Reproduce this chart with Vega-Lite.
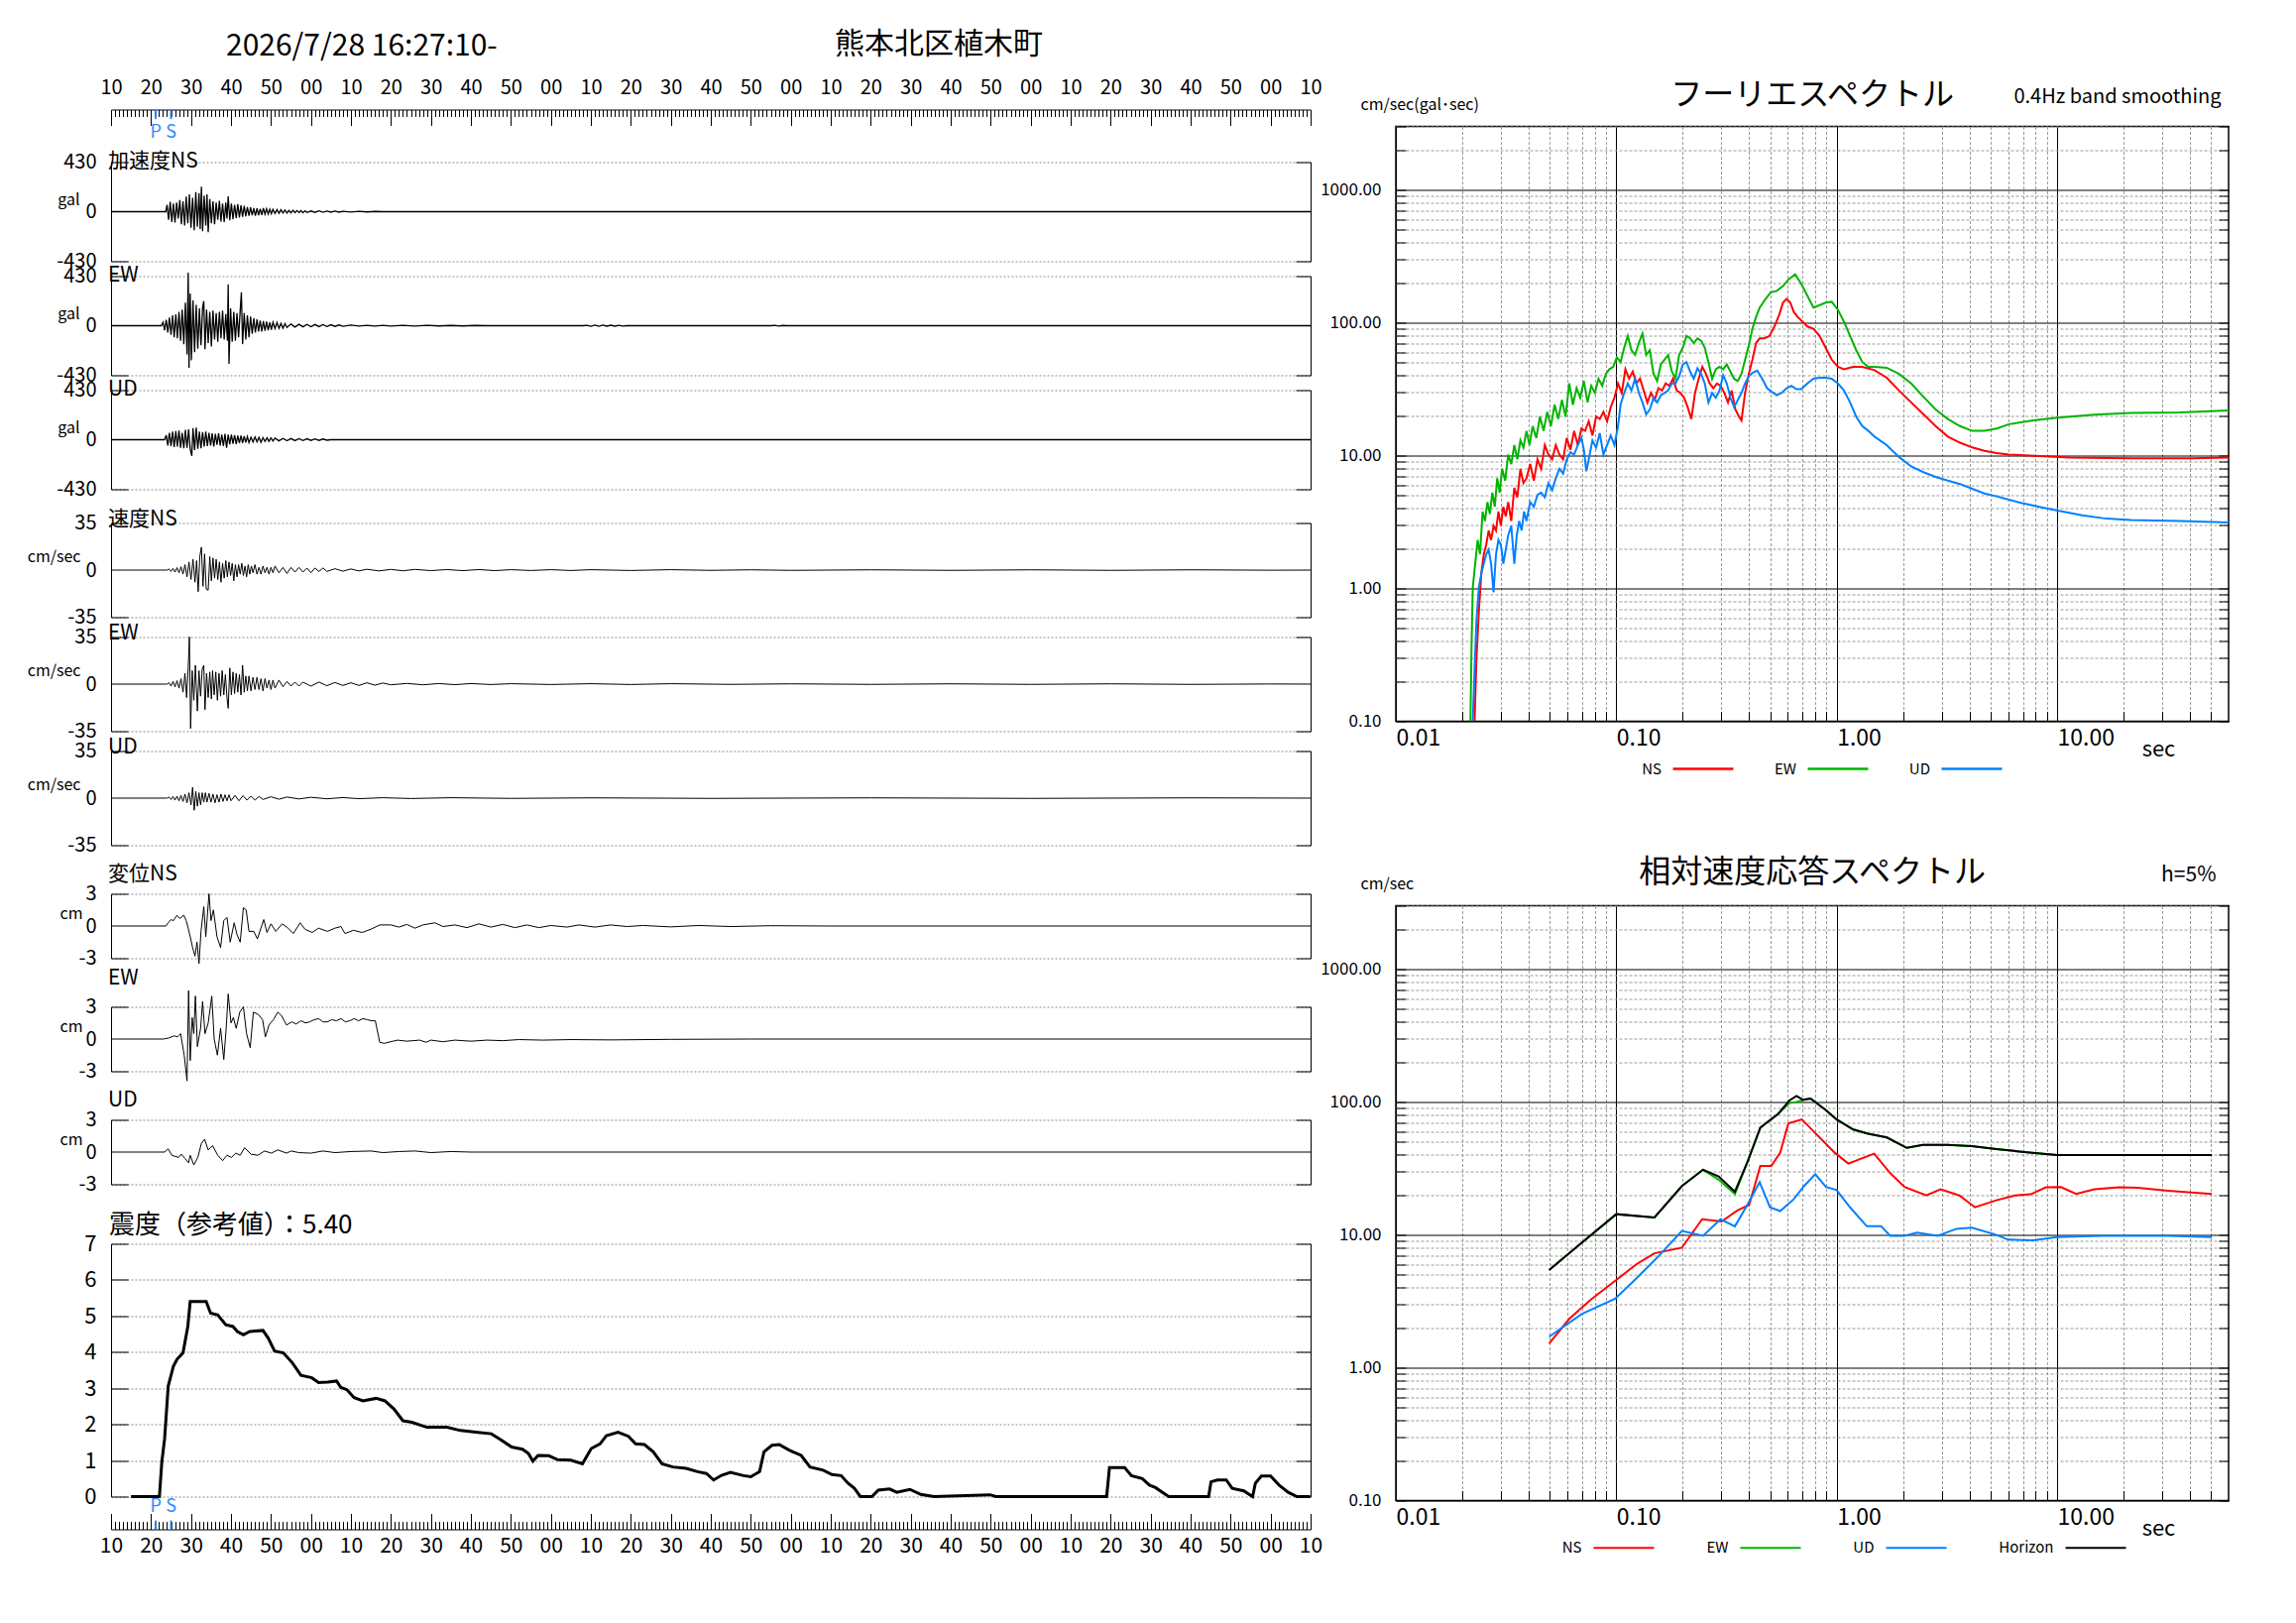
{
  "$schema": "https://vega.github.io/schema/vega-lite/v6.json",
  "background": "white",
  "padding": {"left": 27, "top": 29.5, "right": 5, "bottom": 5},
  "config": {
    "font": "Noto Sans CJK JP",
    "view": {"stroke": null},
    "axis": {
      "labelColor": "#000",
      "titleColor": "#000",
      "domainColor": "#000",
      "tickColor": "#000",
      "titleFontWeight": "normal",
      "labelOverlap": false,
      "labelFlush": false,
      "labelBound": false,
      "minExtent": 0
    },
    "title": {"fontWeight": "normal", "color": "#000"},
    "legend": {"labelColor": "#000"}
  },
  "datasets": {
    "ps": [{"phase": "P", "t": 21.2}, {"phase": "S", "t": 25.0}],
    "ans": [
      {"t":10,"v":0},{"t":23.7,"v":0},{"t":24.0,"v":60},{"t":24.4,"v":-70},{"t":24.8,"v":85},{"t":25.2,"v":-90},{"t":25.6,"v":70},{"t":26.0,"v":-95},{"t":26.4,"v":80},{"t":26.8,"v":-60},{"t":27.2,"v":100},{"t":27.6,"v":-110},{"t":28.0,"v":90},{"t":28.4,"v":-120},{"t":28.8,"v":130},{"t":29.2,"v":-100},{"t":29.6,"v":150},{"t":30.0,"v":-140},{"t":30.4,"v":120},{"t":30.8,"v":-160},{"t":31.2,"v":170},{"t":31.6,"v":-130},{"t":32.0,"v":160},{"t":32.3,"v":-150},{"t":32.6,"v":217},{"t":32.9,"v":-170},{"t":33.3,"v":140},{"t":33.7,"v":-120},{"t":34.0,"v":150},{"t":34.3,"v":-179},{"t":34.7,"v":110},{"t":35.1,"v":-100},{"t":35.5,"v":90},{"t":35.9,"v":-110},{"t":36.3,"v":80},{"t":36.7,"v":-70},{"t":37.1,"v":95},{"t":37.5,"v":-85},{"t":37.9,"v":70},{"t":38.3,"v":-90},{"t":38.7,"v":80},{"t":39.0,"v":-60},{"t":39.3,"v":133},{"t":39.7,"v":-75},{"t":40.1,"v":70},{"t":40.5,"v":-65},{"t":40.9,"v":60},{"t":41.3,"v":-55},{"t":41.7,"v":65},{"t":42.1,"v":-50},{"t":42.5,"v":55},{"t":42.9,"v":-45},{"t":43.3,"v":50},{"t":43.7,"v":-40},{"t":44.1,"v":40},{"t":44.5,"v":-35},{"t":44.9,"v":38},{"t":45.3,"v":-32},{"t":45.7,"v":30},{"t":46.1,"v":-35},{"t":46.5,"v":28},{"t":46.9,"v":-30},{"t":47.3,"v":25},{"t":47.7,"v":-28},{"t":48.1,"v":30},{"t":48.5,"v":-22},{"t":48.9,"v":25},{"t":49.3,"v":-20},{"t":49.7,"v":22},{"t":50.1,"v":-18},{"t":50.5,"v":20},{"t":51.0,"v":-15},{"t":51.5,"v":18},{"t":52.0,"v":-14},{"t":52.5,"v":16},{"t":53.0,"v":-12},{"t":53.5,"v":14},{"t":54.0,"v":-12},{"t":54.5,"v":10},{"t":55.0,"v":-11},{"t":55.5,"v":12},{"t":56.0,"v":-9},{"t":56.5,"v":10},{"t":57.0,"v":-8},{"t":57.5,"v":9},{"t":58.0,"v":-10},{"t":58.5,"v":8},{"t":59.0,"v":-7},{"t":60,"v":6},{"t":61,"v":-6},{"t":62,"v":7},{"t":63,"v":-5},{"t":64,"v":5},{"t":65,"v":-4},{"t":66,"v":5},{"t":67,"v":-4},{"t":68,"v":3},{"t":70,"v":-3},{"t":72,"v":3},{"t":74,"v":-2},{"t":76,"v":2},{"t":78,"v":0},{"t":310,"v":0}
    ],
    "aew": [
      {"t":10,"v":0},{"t":22.6,"v":0},{"t":23.0,"v":30},{"t":23.4,"v":-40},{"t":23.8,"v":50},{"t":24.2,"v":-60},{"t":24.6,"v":70},{"t":25.0,"v":-80},{"t":25.4,"v":90},{"t":25.8,"v":-100},{"t":26.2,"v":99},{"t":26.6,"v":-110},{"t":27.0,"v":120},{"t":27.4,"v":-130},{"t":27.8,"v":140},{"t":28.2,"v":-160},{"t":28.6,"v":200},{"t":29.0,"v":-250},{"t":29.3,"v":460},{"t":29.5,"v":-365},{"t":29.8,"v":280},{"t":30.1,"v":-300},{"t":30.5,"v":220},{"t":30.9,"v":-230},{"t":31.3,"v":180},{"t":31.7,"v":-200},{"t":32.1,"v":150},{"t":32.5,"v":-170},{"t":32.9,"v":160},{"t":33.2,"v":213},{"t":33.5,"v":-205},{"t":33.9,"v":140},{"t":34.3,"v":-150},{"t":34.7,"v":120},{"t":35.1,"v":-180},{"t":35.5,"v":130},{"t":35.9,"v":-120},{"t":36.3,"v":110},{"t":36.7,"v":-140},{"t":37.1,"v":120},{"t":37.5,"v":-110},{"t":37.9,"v":130},{"t":38.3,"v":-120},{"t":38.7,"v":100},{"t":39.1,"v":-130},{"t":39.3,"v":358},{"t":39.5,"v":-331},{"t":39.9,"v":150},{"t":40.3,"v":-140},{"t":40.7,"v":120},{"t":41.1,"v":-130},{"t":41.5,"v":110},{"t":41.9,"v":-100},{"t":42.3,"v":130},{"t":42.6,"v":289},{"t":42.9,"v":-160},{"t":43.3,"v":110},{"t":43.7,"v":-120},{"t":44.1,"v":90},{"t":44.5,"v":-100},{"t":44.9,"v":80},{"t":45.3,"v":-70},{"t":45.7,"v":65},{"t":46.1,"v":-60},{"t":46.5,"v":55},{"t":46.9,"v":-50},{"t":47.3,"v":45},{"t":47.7,"v":-50},{"t":48.1,"v":40},{"t":48.5,"v":-45},{"t":48.9,"v":35},{"t":49.3,"v":-40},{"t":49.7,"v":30},{"t":50.1,"v":-35},{"t":50.5,"v":30},{"t":51.0,"v":-25},{"t":51.5,"v":28},{"t":52.0,"v":-22},{"t":52.5,"v":20},{"t":53,"v":-22},{"t":53.5,"v":18},{"t":54,"v":-15},{"t":55,"v":14},{"t":56,"v":-12},{"t":57,"v":12},{"t":58,"v":-10},{"t":59,"v":11},{"t":60,"v":-9},{"t":61,"v":10},{"t":62,"v":-8},{"t":63,"v":9},{"t":64,"v":-7},{"t":65,"v":8},{"t":66,"v":-6},{"t":67,"v":6},{"t":68,"v":-5},{"t":70,"v":5},{"t":72,"v":-4},{"t":74,"v":4},{"t":76,"v":-4},{"t":78,"v":3},{"t":80,"v":-3},{"t":83,"v":3},{"t":86,"v":-3},{"t":89,"v":3},{"t":92,"v":-2},{"t":95,"v":2},{"t":98,"v":-2},{"t":101,"v":2},{"t":104,"v":0},{"t":128,"v":0},{"t":129,"v":4},{"t":130,"v":-5},{"t":131,"v":5},{"t":132,"v":-5},{"t":133,"v":5},{"t":134,"v":-4},{"t":135,"v":4},{"t":136,"v":-4},{"t":137,"v":3},{"t":138,"v":-3},{"t":139,"v":0},{"t":175,"v":0},{"t":176,"v":3},{"t":177,"v":-3},{"t":178,"v":2},{"t":179,"v":0},{"t":310,"v":0}
    ],
    "aud": [
      {"t":10,"v":0},{"t":23.4,"v":0},{"t":23.8,"v":40},{"t":24.2,"v":-50},{"t":24.6,"v":60},{"t":25.0,"v":-55},{"t":25.4,"v":70},{"t":25.8,"v":-65},{"t":26.2,"v":75},{"t":26.6,"v":-60},{"t":27.0,"v":80},{"t":27.4,"v":-70},{"t":27.8,"v":60},{"t":28.2,"v":-75},{"t":28.6,"v":85},{"t":29.0,"v":-70},{"t":29.4,"v":90},{"t":29.8,"v":-80},{"t":30.2,"v":-140},{"t":30.5,"v":100},{"t":30.9,"v":-90},{"t":31.3,"v":106},{"t":31.7,"v":-80},{"t":32.1,"v":70},{"t":32.5,"v":-75},{"t":32.9,"v":65},{"t":33.3,"v":-60},{"t":33.7,"v":70},{"t":34.1,"v":-55},{"t":34.5,"v":60},{"t":34.9,"v":-50},{"t":35.3,"v":55},{"t":35.7,"v":-60},{"t":36.1,"v":50},{"t":36.5,"v":-45},{"t":36.9,"v":55},{"t":37.3,"v":-50},{"t":37.7,"v":45},{"t":38.1,"v":-55},{"t":38.5,"v":50},{"t":38.9,"v":-70},{"t":39.3,"v":45},{"t":39.7,"v":-40},{"t":40.1,"v":45},{"t":40.5,"v":-35},{"t":40.9,"v":40},{"t":41.3,"v":-38},{"t":41.7,"v":35},{"t":42.1,"v":-30},{"t":42.5,"v":35},{"t":42.9,"v":-28},{"t":43.3,"v":30},{"t":43.7,"v":-25},{"t":44.1,"v":28},{"t":44.5,"v":-25},{"t":45,"v":22},{"t":45.5,"v":-20},{"t":46,"v":24},{"t":46.5,"v":-18},{"t":47,"v":20},{"t":47.5,"v":-22},{"t":48,"v":18},{"t":48.5,"v":-15},{"t":49,"v":16},{"t":49.5,"v":-14},{"t":50,"v":15},{"t":50.5,"v":-12},{"t":51,"v":13},{"t":52,"v":-10},{"t":53,"v":11},{"t":54,"v":-9},{"t":55,"v":10},{"t":56,"v":-8},{"t":57,"v":9},{"t":58,"v":-7},{"t":59,"v":8},{"t":60,"v":-6},{"t":61,"v":7},{"t":62,"v":-6},{"t":63,"v":6},{"t":64,"v":-4},{"t":65,"v":0},{"t":310,"v":0}
    ],
    "vns": [
      {"t":10,"v":0},{"t":24,"v":0},{"t":24.5,"v":0.8},{"t":25,"v":-1},{"t":25.5,"v":1.2},{"t":26,"v":-1.5},{"t":26.5,"v":1.8},{"t":27,"v":-2},{"t":27.5,"v":2.5},{"t":28,"v":-3},{"t":28.5,"v":4},{"t":29,"v":-5},{"t":29.5,"v":6},{"t":30,"v":-7},{"t":30.5,"v":8},{"t":31,"v":-9},{"t":31.4,"v":7},{"t":31.8,"v":-16},{"t":32.2,"v":10},{"t":32.6,"v":17},{"t":33.0,"v":-12},{"t":33.4,"v":12},{"t":33.8,"v":-14},{"t":34.3,"v":-15},{"t":34.7,"v":10},{"t":35.1,"v":-8},{"t":35.5,"v":9},{"t":35.9,"v":-6},{"t":36.3,"v":8},{"t":36.7,"v":-7},{"t":37.1,"v":6},{"t":37.5,"v":-9},{"t":37.9,"v":5},{"t":38.3,"v":-6},{"t":38.7,"v":7},{"t":39.1,"v":-5},{"t":39.5,"v":6},{"t":39.9,"v":-4},{"t":40.3,"v":5},{"t":40.7,"v":-8},{"t":41.1,"v":4},{"t":41.5,"v":-5},{"t":41.9,"v":4},{"t":42.3,"v":-3},{"t":42.7,"v":5},{"t":43.1,"v":-4},{"t":43.5,"v":3},{"t":43.9,"v":-5},{"t":44.3,"v":4},{"t":44.7,"v":-3},{"t":45.1,"v":3},{"t":45.5,"v":-2},{"t":46,"v":4},{"t":46.5,"v":-3},{"t":47,"v":2},{"t":47.5,"v":-3},{"t":48,"v":3},{"t":48.5,"v":-2},{"t":49,"v":2},{"t":49.5,"v":-3},{"t":50,"v":2},{"t":50.5,"v":-2},{"t":51,"v":3},{"t":52,"v":-2},{"t":53,"v":2},{"t":54,"v":-2.5},{"t":55,"v":2},{"t":56,"v":-1.5},{"t":57,"v":2},{"t":58,"v":-1.5},{"t":59,"v":1.5},{"t":60,"v":-2},{"t":61,"v":1.5},{"t":62,"v":-1},{"t":63,"v":1.5},{"t":64,"v":-1},{"t":66,"v":1},{"t":68,"v":-0.8},{"t":70,"v":0.8},{"t":72,"v":-0.6},{"t":74,"v":0.6},{"t":77,"v":-0.6},{"t":80,"v":0.5},{"t":83,"v":-0.5},{"t":86,"v":0.5},{"t":90,"v":-0.4},{"t":94,"v":0.4},{"t":98,"v":-0.4},{"t":102,"v":0.4},{"t":106,"v":-0.4},{"t":110,"v":0.3},{"t":115,"v":-0.3},{"t":120,"v":0.3},{"t":125,"v":-0.3},{"t":130,"v":0.3},{"t":140,"v":-0.3},{"t":150,"v":0.3},{"t":160,"v":-0.2},{"t":170,"v":0.2},{"t":180,"v":-0.2},{"t":200,"v":0.2},{"t":220,"v":-0.2},{"t":240,"v":0.2},{"t":260,"v":-0.2},{"t":280,"v":0.2},{"t":300,"v":-0.1},{"t":310,"v":0}
    ],
    "vew": [
      {"t":10,"v":0},{"t":24,"v":0},{"t":24.5,"v":1},{"t":25,"v":-1.5},{"t":25.5,"v":2},{"t":26,"v":-2},{"t":26.5,"v":2.5},{"t":27,"v":-3},{"t":27.5,"v":4},{"t":28,"v":-6},{"t":28.5,"v":8},{"t":28.9,"v":-10},{"t":29.3,"v":12},{"t":29.6,"v":35},{"t":29.9,"v":-33},{"t":30.3,"v":10},{"t":30.7,"v":-12},{"t":31.1,"v":14},{"t":31.6,"v":-20},{"t":32.0,"v":10},{"t":32.4,"v":-9},{"t":32.8,"v":11},{"t":33.2,"v":14},{"t":33.5,"v":-19},{"t":33.9,"v":8},{"t":34.3,"v":-10},{"t":34.7,"v":9},{"t":35.1,"v":-11},{"t":35.4,"v":10},{"t":35.8,"v":-8},{"t":36.2,"v":9},{"t":36.6,"v":-12},{"t":37.0,"v":8},{"t":37.4,"v":-9},{"t":37.8,"v":10},{"t":38.2,"v":-8},{"t":38.6,"v":7},{"t":39.0,"v":-10},{"t":39.3,"v":-18},{"t":39.7,"v":12},{"t":40.1,"v":-8},{"t":40.5,"v":9},{"t":40.9,"v":-7},{"t":41.3,"v":8},{"t":41.7,"v":-6},{"t":42.1,"v":7},{"t":42.5,"v":-8},{"t":42.9,"v":14},{"t":43.3,"v":-6},{"t":43.7,"v":6},{"t":44.1,"v":-5},{"t":44.5,"v":6},{"t":45,"v":-5},{"t":45.5,"v":5},{"t":46,"v":-4},{"t":46.5,"v":5},{"t":47,"v":-4},{"t":47.5,"v":4},{"t":48,"v":-5},{"t":48.5,"v":4},{"t":49,"v":-3},{"t":49.5,"v":3},{"t":50,"v":-4},{"t":50.5,"v":3},{"t":51,"v":-3},{"t":52,"v":3},{"t":53,"v":-2},{"t":54,"v":2},{"t":55,"v":-1.5},{"t":56,"v":1.5},{"t":57,"v":-1.5},{"t":58,"v":1.5},{"t":60,"v":-1.5},{"t":62,"v":1.5},{"t":64,"v":-1.2},{"t":66,"v":1.2},{"t":68,"v":-1},{"t":70,"v":1},{"t":72,"v":-1},{"t":74,"v":1},{"t":76,"v":-0.8},{"t":78,"v":0.8},{"t":80,"v":-0.5},{"t":84,"v":0.5},{"t":88,"v":-0.5},{"t":92,"v":0.4},{"t":96,"v":-0.4},{"t":100,"v":0.4},{"t":105,"v":-0.3},{"t":110,"v":0.3},{"t":120,"v":-0.3},{"t":130,"v":0.3},{"t":140,"v":-0.3},{"t":150,"v":0.3},{"t":165,"v":-0.2},{"t":180,"v":0.2},{"t":200,"v":-0.2},{"t":220,"v":0.2},{"t":240,"v":-0.2},{"t":260,"v":0.2},{"t":280,"v":-0.2},{"t":300,"v":0.1},{"t":310,"v":0}
    ],
    "vud": [
      {"t":10,"v":0},{"t":24,"v":0},{"t":24.5,"v":0.8},{"t":25,"v":-1},{"t":25.5,"v":1.2},{"t":26,"v":-1.5},{"t":26.5,"v":1.5},{"t":27,"v":-2},{"t":27.5,"v":2},{"t":28,"v":-2.5},{"t":28.5,"v":3},{"t":29,"v":-3.5},{"t":29.5,"v":4},{"t":30,"v":-5},{"t":30.4,"v":8},{"t":30.8,"v":-9},{"t":31.2,"v":5},{"t":31.6,"v":-6},{"t":32,"v":4},{"t":32.4,"v":-5},{"t":32.8,"v":4},{"t":33.2,"v":-3},{"t":33.6,"v":4},{"t":34,"v":-3},{"t":34.5,"v":3.5},{"t":35,"v":-3},{"t":35.5,"v":3},{"t":36,"v":-3.5},{"t":36.5,"v":2.5},{"t":37,"v":-3},{"t":37.5,"v":3},{"t":38,"v":-2.5},{"t":38.5,"v":2.5},{"t":39,"v":-2},{"t":39.5,"v":2.5},{"t":40,"v":-2},{"t":41,"v":2},{"t":42,"v":-2},{"t":43,"v":1.8},{"t":44,"v":-1.5},{"t":45,"v":1.5},{"t":46,"v":-1.5},{"t":47,"v":1.2},{"t":48,"v":-1},{"t":50,"v":1},{"t":52,"v":-0.8},{"t":54,"v":0.8},{"t":57,"v":-0.6},{"t":60,"v":0.6},{"t":64,"v":-0.5},{"t":68,"v":0.4},{"t":72,"v":-0.4},{"t":78,"v":0.3},{"t":85,"v":-0.3},{"t":95,"v":0.3},{"t":110,"v":-0.2},{"t":130,"v":0.2},{"t":160,"v":-0.2},{"t":200,"v":0.2},{"t":240,"v":-0.2},{"t":280,"v":0.2},{"t":310,"v":0}
    ],
    "dns": [
      {"t":10,"v":0},{"t":23.7,"v":0},{"t":24.3,"v":0.3},{"t":25.0,"v":0.6},{"t":25.6,"v":0.5},{"t":26.5,"v":1.0},{"t":27.2,"v":0.7},{"t":28.2,"v":1.0},{"t":28.8,"v":0.5},{"t":29.3,"v":-0.2},{"t":29.8,"v":-1.0},{"t":30.4,"v":-2.0},{"t":31.0,"v":-2.8},{"t":31.5,"v":-1.5},{"t":32.0,"v":-3.5},{"t":32.5,"v":-0.5},{"t":33.2,"v":1.8},{"t":33.7,"v":-1.0},{"t":34.5,"v":3.0},{"t":35.0,"v":0.5},{"t":35.6,"v":1.5},{"t":36.5,"v":-1.0},{"t":37.4,"v":-2.0},{"t":38.2,"v":0.5},{"t":39.0,"v":0.8},{"t":39.8,"v":-1.5},{"t":40.8,"v":0.3},{"t":41.5,"v":-0.8},{"t":42.3,"v":-1.5},{"t":43.1,"v":1.7},{"t":43.8,"v":1.5},{"t":44.5,"v":-0.5},{"t":45.7,"v":-0.5},{"t":46.6,"v":-1.2},{"t":48.2,"v":0.6},{"t":49.0,"v":-0.6},{"t":50.0,"v":0.2},{"t":51.2,"v":-0.5},{"t":52.8,"v":0.2},{"t":54.3,"v":-0.2},{"t":55.6,"v":-0.7},{"t":57.3,"v":0.3},{"t":58.5,"v":-0.3},{"t":60.3,"v":-0.6},{"t":61.9,"v":-0.2},{"t":64.1,"v":-0.5},{"t":66.0,"v":-0.2},{"t":67.5,"v":-0.05},{"t":68.5,"v":-0.7},{"t":70.6,"v":-0.4},{"t":72.8,"v":-0.6},{"t":75.0,"v":-0.3},{"t":77.2,"v":0.1},{"t":80,"v":0.1},{"t":82,"v":-0.1},{"t":84,"v":0.15},{"t":86,"v":-0.2},{"t":88,"v":0.1},{"t":91,"v":0.3},{"t":93,"v":-0.05},{"t":96,"v":0.1},{"t":99,"v":-0.15},{"t":102,"v":0.2},{"t":105,"v":-0.1},{"t":108,"v":0.15},{"t":111,"v":-0.15},{"t":114,"v":0.1},{"t":117,"v":-0.15},{"t":120,"v":0.05},{"t":124,"v":-0.1},{"t":127,"v":0.1},{"t":131,"v":-0.1},{"t":135,"v":0.1},{"t":139,"v":-0.05},{"t":143,"v":0.05},{"t":150,"v":-0.08},{"t":157,"v":0.05},{"t":165,"v":-0.05},{"t":175,"v":0.03},{"t":190,"v":0},{"t":310,"v":0}
    ],
    "dew": [
      {"t":10,"v":0},{"t":23.1,"v":0},{"t":24.5,"v":0.1},{"t":25.8,"v":0.3},{"t":26.6,"v":0.2},{"t":27.4,"v":0.5},{"t":28.3,"v":-1.5},{"t":29.0,"v":-3.9},{"t":29.4,"v":4.5},{"t":29.8,"v":-2.0},{"t":30.3,"v":2.0},{"t":30.7,"v":0.5},{"t":31.1,"v":4.0},{"t":31.6,"v":-0.7},{"t":32.4,"v":1.0},{"t":32.9,"v":3.5},{"t":33.5,"v":0.5},{"t":34.3,"v":1.5},{"t":35.2,"v":4.0},{"t":35.8,"v":0.0},{"t":36.6,"v":-1.5},{"t":37.4,"v":1.0},{"t":38.2,"v":-1.9},{"t":38.8,"v":1.0},{"t":39.3,"v":4.2},{"t":40.0,"v":1.5},{"t":40.6,"v":2.0},{"t":41.3,"v":1.0},{"t":42.2,"v":2.5},{"t":43.1,"v":3.0},{"t":43.9,"v":0.5},{"t":44.8,"v":-0.8},{"t":45.6,"v":2.5},{"t":46.8,"v":2.3},{"t":47.9,"v":1.8},{"t":48.6,"v":0.2},{"t":49.5,"v":1.3},{"t":50.6,"v":1.8},{"t":51.7,"v":2.5},{"t":52.6,"v":2.2},{"t":53.9,"v":1.3},{"t":55.2,"v":1.6},{"t":56.3,"v":1.4},{"t":57.5,"v":1.7},{"t":58.6,"v":1.5},{"t":59.7,"v":1.6},{"t":60.8,"v":1.8},{"t":61.9,"v":1.9},{"t":63.0,"v":1.6},{"t":64.1,"v":1.6},{"t":65.2,"v":1.8},{"t":66.4,"v":1.7},{"t":67.5,"v":1.9},{"t":68.6,"v":1.6},{"t":69.7,"v":1.7},{"t":70.8,"v":1.9},{"t":71.9,"v":1.7},{"t":73.0,"v":1.9},{"t":74.1,"v":1.8},{"t":75.2,"v":1.7},{"t":76.1,"v":1.7},{"t":77.2,"v":-0.3},{"t":78.3,"v":-0.4},{"t":80.5,"v":-0.2},{"t":81.7,"v":-0.1},{"t":83.9,"v":-0.2},{"t":87.2,"v":-0.1},{"t":88.8,"v":-0.3},{"t":90,"v":-0.1},{"t":93,"v":-0.25},{"t":96,"v":-0.1},{"t":100,"v":-0.2},{"t":104,"v":-0.1},{"t":108,"v":-0.15},{"t":112,"v":-0.05},{"t":118,"v":-0.1},{"t":125,"v":-0.05},{"t":135,"v":-0.08},{"t":150,"v":-0.03},{"t":170,"v":0},{"t":310,"v":0}
    ],
    "dud": [
      {"t":10,"v":0},{"t":23.4,"v":0},{"t":24.3,"v":0.3},{"t":25.2,"v":-0.3},{"t":26.9,"v":-0.5},{"t":27.6,"v":-0.2},{"t":28.5,"v":-0.6},{"t":29.4,"v":-1.0},{"t":29.8,"v":-0.3},{"t":30.7,"v":-1.2},{"t":31.7,"v":-0.5},{"t":32.6,"v":0.8},{"t":33.4,"v":1.2},{"t":34.3,"v":0.2},{"t":35.4,"v":0.6},{"t":36.7,"v":-0.3},{"t":37.9,"v":-0.8},{"t":39.0,"v":-0.3},{"t":40.1,"v":-0.5},{"t":41.2,"v":-0.1},{"t":42.3,"v":-0.3},{"t":43.4,"v":0.4},{"t":45.0,"v":-0.2},{"t":46.7,"v":-0.3},{"t":48.4,"v":0.1},{"t":50.1,"v":-0.1},{"t":51.7,"v":0.2},{"t":53.9,"v":-0.1},{"t":55.0,"v":0.1},{"t":57,"v":-0.05},{"t":60,"v":-0.1},{"t":63,"v":0.1},{"t":66,"v":-0.05},{"t":70,"v":0.05},{"t":75,"v":0.1},{"t":78,"v":-0.05},{"t":82,"v":0.05},{"t":86,"v":0.1},{"t":90,"v":-0.05},{"t":95,"v":0.05},{"t":100,"v":0},{"t":310,"v":0}
    ],
    "shindo": [
      {"t":15,"v":0},{"t":22.1,"v":0},{"t":22.7,"v":0.96},{"t":23.4,"v":1.6},{"t":24.3,"v":3.06},{"t":25.6,"v":3.61},{"t":26.5,"v":3.8},{"t":28.0,"v":3.98},{"t":29.2,"v":4.71},{"t":29.8,"v":5.4},{"t":33.8,"v":5.4},{"t":34.9,"v":5.08},{"t":36.7,"v":5.03},{"t":38.7,"v":4.76},{"t":40.5,"v":4.71},{"t":41.6,"v":4.57},{"t":43.1,"v":4.48},{"t":44.7,"v":4.57},{"t":48.0,"v":4.6},{"t":49.3,"v":4.39},{"t":50.9,"v":4.03},{"t":53.1,"v":3.98},{"t":55.3,"v":3.71},{"t":57.5,"v":3.36},{"t":60.2,"v":3.29},{"t":61.9,"v":3.16},{"t":64.2,"v":3.17},{"t":66.4,"v":3.2},{"t":67.5,"v":3.02},{"t":69.0,"v":2.96},{"t":70.8,"v":2.74},{"t":73.0,"v":2.65},{"t":76.3,"v":2.72},{"t":78.5,"v":2.65},{"t":80.8,"v":2.42},{"t":83.0,"v":2.1},{"t":85.2,"v":2.06},{"t":89.0,"v":1.92},{"t":94.0,"v":1.92},{"t":97.4,"v":1.83},{"t":101.8,"v":1.78},{"t":105.1,"v":1.74},{"t":107.4,"v":1.58},{"t":110.2,"v":1.37},{"t":112.9,"v":1.31},{"t":114.4,"v":1.19},{"t":115.5,"v":0.98},{"t":116.8,"v":1.14},{"t":119.5,"v":1.13},{"t":121.7,"v":1.02},{"t":125.0,"v":1.01},{"t":127.9,"v":0.91},{"t":130.1,"v":1.33},{"t":132.3,"v":1.46},{"t":133.9,"v":1.69},{"t":136.8,"v":1.78},{"t":139.4,"v":1.67},{"t":141.2,"v":1.46},{"t":143.4,"v":1.44},{"t":145.6,"v":1.24},{"t":147.8,"v":0.91},{"t":150.5,"v":0.82},{"t":153.8,"v":0.78},{"t":156.7,"v":0.69},{"t":158.9,"v":0.64},{"t":160.7,"v":0.46},{"t":162.7,"v":0.59},{"t":164.9,"v":0.67},{"t":168.2,"v":0.58},{"t":170.0,"v":0.55},{"t":172.2,"v":0.69},{"t":173.3,"v":1.24},{"t":175.3,"v":1.42},{"t":177.1,"v":1.44},{"t":179.7,"v":1.28},{"t":182.6,"v":1.14},{"t":184.8,"v":0.82},{"t":188.1,"v":0.73},{"t":190.3,"v":0.61},{"t":192.6,"v":0.58},{"t":194.3,"v":0.37},{"t":195.9,"v":0.23},{"t":197.4,"v":0},{"t":200.3,"v":0},{"t":201.9,"v":0.18},{"t":204.7,"v":0.21},{"t":206.5,"v":0.12},{"t":209.8,"v":0.2},{"t":212.5,"v":0.06},{"t":215.8,"v":0},{"t":229.8,"v":0.05},{"t":231.3,"v":0},{"t":259.0,"v":0},{"t":259.7,"v":0.8},{"t":263.5,"v":0.8},{"t":265.2,"v":0.58},{"t":267.9,"v":0.5},{"t":269.7,"v":0.32},{"t":271.2,"v":0.25},{"t":274.5,"v":0},{"t":284.5,"v":0},{"t":285.1,"v":0.41},{"t":286.7,"v":0.46},{"t":288.9,"v":0.46},{"t":290.4,"v":0.23},{"t":293.3,"v":0.16},{"t":295.5,"v":0},{"t":296.2,"v":0.37},{"t":297.7,"v":0.57},{"t":300.0,"v":0.57},{"t":302.1,"v":0.32},{"t":304.4,"v":0.12},{"t":306.6,"v":0},{"t":309.9,"v":0}
    ],
    "fourier": [
      {"c":"EW","T":0.0218,"A":0.1},{"c":"EW","T":0.02206,"A":0.379},{"c":"EW","T":0.02234,"A":1.017},{"c":"EW","T":0.02291,"A":1.533},{"c":"EW","T":0.0235,"A":2.313},{"c":"EW","T":0.02411,"A":1.808},{"c":"EW","T":0.02474,"A":3.789},{"c":"EW","T":0.02537,"A":3.215},{"c":"EW","T":0.02603,"A":4.467},{"c":"EW","T":0.02671,"A":3.636},{"c":"EW","T":0.0274,"A":5.264},{"c":"EW","T":0.02811,"A":4.114},{"c":"EW","T":0.02883,"A":6.741},{"c":"EW","T":0.02958,"A":5.264},{"c":"EW","T":0.03034,"A":7.943},{"c":"EW","T":0.03133,"A":6.47},{"c":"EW","T":0.03234,"A":10.17},{"c":"EW","T":0.03339,"A":8.624},{"c":"EW","T":0.03447,"A":11.98},{"c":"EW","T":0.03558,"A":9.364},{"c":"EW","T":0.03674,"A":13.01},{"c":"EW","T":0.03793,"A":11.5},{"c":"EW","T":0.03915,"A":15.33},{"c":"EW","T":0.04043,"A":11.98},{"c":"EW","T":0.04174,"A":16.65},{"c":"EW","T":0.04337,"A":13.56},{"c":"EW","T":0.04506,"A":19.63},{"c":"EW","T":0.04682,"A":15.33},{"c":"EW","T":0.04864,"A":21.31},{"c":"EW","T":0.05054,"A":16.65},{"c":"EW","T":0.05251,"A":24.11},{"c":"EW","T":0.05456,"A":18.84},{"c":"EW","T":0.05669,"A":26.17},{"c":"EW","T":0.0589,"A":19.63},{"c":"EW","T":0.0612,"A":34.9},{"c":"EW","T":0.06359,"A":24.11},{"c":"EW","T":0.06606,"A":32.15},{"c":"EW","T":0.06864,"A":27.28},{"c":"EW","T":0.07132,"A":36.36},{"c":"EW","T":0.0741,"A":25.12},{"c":"EW","T":0.07699,"A":33.5},{"c":"EW","T":0.07999,"A":29.61},{"c":"EW","T":0.08311,"A":37.89},{"c":"EW","T":0.08635,"A":33.5},{"c":"EW","T":0.08972,"A":41.14},{"c":"EW","T":0.09322,"A":44.67},{"c":"EW","T":0.09685,"A":46.54},{"c":"EW","T":0.1006,"A":54.86},{"c":"EW","T":0.1046,"A":50.53},{"c":"EW","T":0.1086,"A":64.7},{"c":"EW","T":0.1128,"A":79.43},{"c":"EW","T":0.1172,"A":62.08},{"c":"EW","T":0.1218,"A":57.18},{"c":"EW","T":0.1266,"A":70.22},{"c":"EW","T":0.1315,"A":82.8},{"c":"EW","T":0.1367,"A":57.18},{"c":"EW","T":0.142,"A":62.08},{"c":"EW","T":0.1476,"A":41.14},{"c":"EW","T":0.1533,"A":36.36},{"c":"EW","T":0.1593,"A":48.49},{"c":"EW","T":0.1655,"A":52.64},{"c":"EW","T":0.172,"A":57.18},{"c":"EW","T":0.1787,"A":42.87},{"c":"EW","T":0.1857,"A":37.89},{"c":"EW","T":0.1929,"A":57.18},{"c":"EW","T":0.2004,"A":64.7},{"c":"EW","T":0.2083,"A":79.43},{"c":"EW","T":0.2164,"A":76.23},{"c":"EW","T":0.2248,"A":70.22},{"c":"EW","T":0.2336,"A":76.23},{"c":"EW","T":0.2427,"A":73.16},{"c":"EW","T":0.2522,"A":64.7},{"c":"EW","T":0.262,"A":50.53},{"c":"EW","T":0.2722,"A":37.89},{"c":"EW","T":0.2829,"A":44.67},{"c":"EW","T":0.2939,"A":46.54},{"c":"EW","T":0.3054,"A":44.67},{"c":"EW","T":0.3173,"A":48.49},{"c":"EW","T":0.3296,"A":42.87},{"c":"EW","T":0.3425,"A":37.89},{"c":"EW","T":0.3559,"A":36.36},{"c":"EW","T":0.3698,"A":41.14},{"c":"EW","T":0.3842,"A":52.64},{"c":"EW","T":0.3992,"A":67.41},{"c":"EW","T":0.4148,"A":89.87},{"c":"EW","T":0.4309,"A":110.4},{"c":"EW","T":0.4477,"A":130.1},{"c":"EW","T":0.4711,"A":147.2},{"c":"EW","T":0.5021,"A":169.3},{"c":"EW","T":0.5352,"A":173.5},{"c":"EW","T":0.5704,"A":188.4},{"c":"EW","T":0.608,"A":213.1},{"c":"EW","T":0.648,"A":231.3},{"c":"EW","T":0.6907,"A":196.3},{"c":"EW","T":0.7362,"A":159.8},{"c":"EW","T":0.7847,"A":130.1},{"c":"EW","T":0.8364,"A":135.6},{"c":"EW","T":0.8915,"A":141.3},{"c":"EW","T":0.9502,"A":143.6},{"c":"EW","T":1.0128,"A":124.9},{"c":"EW","T":1.0795,"A":101.7},{"c":"EW","T":1.1506,"A":79.43},{"c":"EW","T":1.2264,"A":62.08},{"c":"EW","T":1.3071,"A":50.53},{"c":"EW","T":1.3932,"A":46.54},{"c":"EW","T":1.485,"A":46.54},{"c":"EW","T":1.6871,"A":45.78},{"c":"EW","T":1.9167,"A":41.14},{"c":"EW","T":2.1777,"A":34.9},{"c":"EW","T":2.4741,"A":27.73},{"c":"EW","T":2.811,"A":22.21},{"c":"EW","T":3.1936,"A":18.84},{"c":"EW","T":3.6284,"A":16.65},{"c":"EW","T":4.1223,"A":15.33},{"c":"EW","T":4.6836,"A":15.33},{"c":"EW","T":5.3212,"A":15.98},{"c":"EW","T":6.0456,"A":17.21},{"c":"EW","T":7.798,"A":18.38},{"c":"EW","T":10.07,"A":19.31},{"c":"EW","T":14.76,"A":20.28},{"c":"EW","T":21.64,"A":20.96},{"c":"EW","T":36.05,"A":21.13},{"c":"EW","T":60,"A":21.84},
      {"c":"NS","T":0.02277,"A":0.1},{"c":"NS","T":0.02321,"A":0.2961},{"c":"NS","T":0.02381,"A":0.6741},{"c":"NS","T":0.02443,"A":1.301},{"c":"NS","T":0.02506,"A":1.808},{"c":"NS","T":0.0257,"A":2.131},{"c":"NS","T":0.02637,"A":2.728},{"c":"NS","T":0.02705,"A":2.313},{"c":"NS","T":0.02775,"A":2.961},{"c":"NS","T":0.02847,"A":2.728},{"c":"NS","T":0.0292,"A":3.789},{"c":"NS","T":0.02996,"A":2.961},{"c":"NS","T":0.03073,"A":4.114},{"c":"NS","T":0.03153,"A":3.49},{"c":"NS","T":0.03234,"A":4.467},{"c":"NS","T":0.03339,"A":3.215},{"c":"NS","T":0.03447,"A":5.718},{"c":"NS","T":0.03558,"A":4.849},{"c":"NS","T":0.03674,"A":7.943},{"c":"NS","T":0.03793,"A":6.208},{"c":"NS","T":0.03915,"A":6.741},{"c":"NS","T":0.04069,"A":8.624},{"c":"NS","T":0.04227,"A":6.47},{"c":"NS","T":0.04392,"A":9.364},{"c":"NS","T":0.04563,"A":7.943},{"c":"NS","T":0.04742,"A":11.98},{"c":"NS","T":0.04926,"A":10.17},{"c":"NS","T":0.05118,"A":9.364},{"c":"NS","T":0.05318,"A":11.98},{"c":"NS","T":0.05526,"A":10.17},{"c":"NS","T":0.05741,"A":9.364},{"c":"NS","T":0.05965,"A":13.56},{"c":"NS","T":0.06197,"A":11.04},{"c":"NS","T":0.0644,"A":15.33},{"c":"NS","T":0.06691,"A":11.98},{"c":"NS","T":0.06952,"A":15.98},{"c":"NS","T":0.07223,"A":15.33},{"c":"NS","T":0.07504,"A":18.08},{"c":"NS","T":0.07798,"A":14.13},{"c":"NS","T":0.08102,"A":19.63},{"c":"NS","T":0.08418,"A":18.84},{"c":"NS","T":0.08746,"A":21.31},{"c":"NS","T":0.09087,"A":18.08},{"c":"NS","T":0.09441,"A":23.13},{"c":"NS","T":0.0981,"A":27.28},{"c":"NS","T":0.1019,"A":34.9},{"c":"NS","T":0.1059,"A":29.61},{"c":"NS","T":0.11,"A":44.67},{"c":"NS","T":0.1143,"A":37.89},{"c":"NS","T":0.1188,"A":42.87},{"c":"NS","T":0.1234,"A":34.9},{"c":"NS","T":0.1282,"A":37.89},{"c":"NS","T":0.1332,"A":30.85},{"c":"NS","T":0.1384,"A":25.12},{"c":"NS","T":0.1438,"A":29.61},{"c":"NS","T":0.1494,"A":26.17},{"c":"NS","T":0.1553,"A":32.15},{"c":"NS","T":0.1614,"A":30.85},{"c":"NS","T":0.1676,"A":34.9},{"c":"NS","T":0.1742,"A":33.5},{"c":"NS","T":0.181,"A":37.89},{"c":"NS","T":0.1881,"A":30.85},{"c":"NS","T":0.1954,"A":29.61},{"c":"NS","T":0.203,"A":27.28},{"c":"NS","T":0.2109,"A":23.13},{"c":"NS","T":0.2191,"A":18.84},{"c":"NS","T":0.2277,"A":29.61},{"c":"NS","T":0.2366,"A":37.89},{"c":"NS","T":0.2458,"A":46.54},{"c":"NS","T":0.2554,"A":41.14},{"c":"NS","T":0.2654,"A":34.9},{"c":"NS","T":0.2757,"A":32.15},{"c":"NS","T":0.2865,"A":34.9},{"c":"NS","T":0.2977,"A":33.5},{"c":"NS","T":0.3093,"A":29.61},{"c":"NS","T":0.3213,"A":25.12},{"c":"NS","T":0.3339,"A":30.85},{"c":"NS","T":0.3469,"A":22.21},{"c":"NS","T":0.3605,"A":19.63},{"c":"NS","T":0.3698,"A":18.38},{"c":"NS","T":0.3842,"A":29.61},{"c":"NS","T":0.3992,"A":41.14},{"c":"NS","T":0.4148,"A":52.64},{"c":"NS","T":0.4309,"A":70.22},{"c":"NS","T":0.4477,"A":76.23},{"c":"NS","T":0.4711,"A":76.23},{"c":"NS","T":0.4957,"A":79.43},{"c":"NS","T":0.5218,"A":93.64},{"c":"NS","T":0.549,"A":115},{"c":"NS","T":0.5704,"A":141.3},{"c":"NS","T":0.5928,"A":150.9},{"c":"NS","T":0.6159,"A":141.3},{"c":"NS","T":0.64,"A":119.8},{"c":"NS","T":0.665,"A":110.4},{"c":"NS","T":0.6998,"A":101.7},{"c":"NS","T":0.7362,"A":93.64},{"c":"NS","T":0.7847,"A":89.87},{"c":"NS","T":0.8364,"A":79.43},{"c":"NS","T":0.8915,"A":64.7},{"c":"NS","T":0.9502,"A":52.64},{"c":"NS","T":1.0128,"A":46.54},{"c":"NS","T":1.0795,"A":44.67},{"c":"NS","T":1.1876,"A":46.54},{"c":"NS","T":1.3071,"A":46.54},{"c":"NS","T":1.485,"A":43.94},{"c":"NS","T":1.6871,"A":38.52},{"c":"NS","T":1.9167,"A":30.85},{"c":"NS","T":2.1777,"A":25.12},{"c":"NS","T":2.4741,"A":20.45},{"c":"NS","T":2.811,"A":16.65},{"c":"NS","T":3.1936,"A":13.89},{"c":"NS","T":3.6284,"A":12.49},{"c":"NS","T":4.1223,"A":11.5},{"c":"NS","T":4.6836,"A":10.86},{"c":"NS","T":5.3212,"A":10.42},{"c":"NS","T":6.0456,"A":10.17},{"c":"NS","T":8.312,"A":9.918},{"c":"NS","T":11.44,"A":9.676},{"c":"NS","T":21.64,"A":9.519},{"c":"NS","T":40.95,"A":9.519},{"c":"NS","T":60,"A":9.676},
      {"c":"UD","T":0.02234,"A":0.1},{"c":"UD","T":0.02277,"A":0.2512},{"c":"UD","T":0.02321,"A":0.5718},{"c":"UD","T":0.02381,"A":1.017},{"c":"UD","T":0.02443,"A":1.301},{"c":"UD","T":0.02506,"A":1.533},{"c":"UD","T":0.0257,"A":1.808},{"c":"UD","T":0.02637,"A":1.963},{"c":"UD","T":0.02705,"A":1.533},{"c":"UD","T":0.02775,"A":0.9364},{"c":"UD","T":0.02847,"A":1.808},{"c":"UD","T":0.0292,"A":2.313},{"c":"UD","T":0.02996,"A":2.131},{"c":"UD","T":0.03073,"A":1.533},{"c":"UD","T":0.03153,"A":1.963},{"c":"UD","T":0.03234,"A":2.512},{"c":"UD","T":0.03339,"A":2.961},{"c":"UD","T":0.03447,"A":1.533},{"c":"UD","T":0.03536,"A":2.512},{"c":"UD","T":0.03628,"A":3.215},{"c":"UD","T":0.03721,"A":2.728},{"c":"UD","T":0.03817,"A":3.789},{"c":"UD","T":0.03915,"A":3.215},{"c":"UD","T":0.04069,"A":4.467},{"c":"UD","T":0.04227,"A":4.114},{"c":"UD","T":0.04392,"A":5.053},{"c":"UD","T":0.04563,"A":5.264},{"c":"UD","T":0.04742,"A":4.849},{"c":"UD","T":0.04926,"A":6.208},{"c":"UD","T":0.05118,"A":5.486},{"c":"UD","T":0.05318,"A":6.741},{"c":"UD","T":0.05526,"A":7.943},{"c":"UD","T":0.05741,"A":7.316},{"c":"UD","T":0.05965,"A":9.364},{"c":"UD","T":0.06197,"A":10.59},{"c":"UD","T":0.0644,"A":10.17},{"c":"UD","T":0.06691,"A":11.98},{"c":"UD","T":0.06952,"A":13.56},{"c":"UD","T":0.07132,"A":11.04},{"c":"UD","T":0.07316,"A":7.623},{"c":"UD","T":0.07504,"A":9.364},{"c":"UD","T":0.07798,"A":13.01},{"c":"UD","T":0.08102,"A":11.5},{"c":"UD","T":0.08418,"A":14.72},{"c":"UD","T":0.08746,"A":10.17},{"c":"UD","T":0.09087,"A":11.98},{"c":"UD","T":0.09441,"A":14.13},{"c":"UD","T":0.0981,"A":11.98},{"c":"UD","T":0.1019,"A":16.65},{"c":"UD","T":0.1046,"A":24.11},{"c":"UD","T":0.1086,"A":29.61},{"c":"UD","T":0.1128,"A":34.9},{"c":"UD","T":0.1172,"A":30.85},{"c":"UD","T":0.1218,"A":37.89},{"c":"UD","T":0.1266,"A":29.61},{"c":"UD","T":0.1315,"A":25.12},{"c":"UD","T":0.1367,"A":20.45},{"c":"UD","T":0.142,"A":22.21},{"c":"UD","T":0.1476,"A":27.28},{"c":"UD","T":0.1533,"A":25.12},{"c":"UD","T":0.1593,"A":28.42},{"c":"UD","T":0.1655,"A":29.61},{"c":"UD","T":0.172,"A":30.85},{"c":"UD","T":0.1787,"A":34.9},{"c":"UD","T":0.1857,"A":34.9},{"c":"UD","T":0.1929,"A":39.48},{"c":"UD","T":0.2004,"A":48.49},{"c":"UD","T":0.2083,"A":50.53},{"c":"UD","T":0.2164,"A":42.87},{"c":"UD","T":0.2248,"A":37.89},{"c":"UD","T":0.2336,"A":45.4},{"c":"UD","T":0.2427,"A":41.14},{"c":"UD","T":0.2522,"A":34.9},{"c":"UD","T":0.262,"A":25.12},{"c":"UD","T":0.2722,"A":29.61},{"c":"UD","T":0.2829,"A":27.28},{"c":"UD","T":0.2939,"A":30.85},{"c":"UD","T":0.3054,"A":40.14},{"c":"UD","T":0.3173,"A":34.9},{"c":"UD","T":0.3296,"A":27.28},{"c":"UD","T":0.3425,"A":23.13},{"c":"UD","T":0.3559,"A":26.17},{"c":"UD","T":0.3698,"A":29.61},{"c":"UD","T":0.3842,"A":34.9},{"c":"UD","T":0.3992,"A":39.48},{"c":"UD","T":0.4148,"A":41.83},{"c":"UD","T":0.4365,"A":43.59},{"c":"UD","T":0.4592,"A":37.89},{"c":"UD","T":0.4834,"A":32.15},{"c":"UD","T":0.5086,"A":30.1},{"c":"UD","T":0.5352,"A":28.42},{"c":"UD","T":0.5632,"A":29.61},{"c":"UD","T":0.5928,"A":32.15},{"c":"UD","T":0.6237,"A":33.5},{"c":"UD","T":0.6564,"A":31.62},{"c":"UD","T":0.6907,"A":31.62},{"c":"UD","T":0.7362,"A":34.9},{"c":"UD","T":0.7847,"A":37.89},{"c":"UD","T":0.8364,"A":38.52},{"c":"UD","T":0.8915,"A":38.52},{"c":"UD","T":0.9502,"A":37.89},{"c":"UD","T":1.0128,"A":34.9},{"c":"UD","T":1.0795,"A":30.85},{"c":"UD","T":1.1506,"A":25.12},{"c":"UD","T":1.2264,"A":19.63},{"c":"UD","T":1.3071,"A":16.65},{"c":"UD","T":1.3932,"A":15.33},{"c":"UD","T":1.485,"A":13.89},{"c":"UD","T":1.6871,"A":11.98},{"c":"UD","T":1.9167,"A":9.757},{"c":"UD","T":2.1777,"A":8.28},{"c":"UD","T":2.4741,"A":7.499},{"c":"UD","T":2.811,"A":6.907},{"c":"UD","T":3.1936,"A":6.47},{"c":"UD","T":3.6284,"A":6.105},{"c":"UD","T":4.1223,"A":5.623},{"c":"UD","T":4.6836,"A":5.179},{"c":"UD","T":5.3212,"A":4.931},{"c":"UD","T":6.0456,"A":4.655},{"c":"UD","T":6.866,"A":4.394},{"c":"UD","T":8.312,"A":4.114},{"c":"UD","T":10.07,"A":3.852},{"c":"UD","T":12.99,"A":3.548},{"c":"UD","T":16.76,"A":3.35},{"c":"UD","T":21.64,"A":3.268},{"c":"UD","T":36.05,"A":3.215},{"c":"UD","T":60,"A":3.136}
    ],
    "resp": [
      {"c":"NS","T":0.0496,"A":1.52},{"c":"NS","T":0.0612,"A":2.33},{"c":"NS","T":0.0765,"A":3.24},{"c":"NS","T":0.1,"A":4.58},{"c":"NS","T":0.1233,"A":6.0},{"c":"NS","T":0.149,"A":7.26},{"c":"NS","T":0.1986,"A":8.0},{"c":"NS","T":0.2451,"A":13.1},{"c":"NS","T":0.3008,"A":12.6},{"c":"NS","T":0.353,"A":15.2},{"c":"NS","T":0.401,"A":16.8},{"c":"NS","T":0.4504,"A":33.0},{"c":"NS","T":0.5051,"A":33.0},{"c":"NS","T":0.5544,"A":41.5},{"c":"NS","T":0.6038,"A":69},{"c":"NS","T":0.6953,"A":73.8},{"c":"NS","T":0.7859,"A":60.1},{"c":"NS","T":0.98,"A":41.5},{"c":"NS","T":1.13,"A":34.4},{"c":"NS","T":1.3,"A":37.6},{"c":"NS","T":1.48,"A":40.8},{"c":"NS","T":1.75,"A":29.1},{"c":"NS","T":2.03,"A":22.9},{"c":"NS","T":2.55,"A":19.8},{"c":"NS","T":2.96,"A":22.0},{"c":"NS","T":3.6,"A":19.8},{"c":"NS","T":4.24,"A":16.1},{"c":"NS","T":5.3,"A":18.2},{"c":"NS","T":6.45,"A":19.8},{"c":"NS","T":7.6,"A":20.2},{"c":"NS","T":8.9,"A":22.8},{"c":"NS","T":10.4,"A":22.9},{"c":"NS","T":12.2,"A":20.3},{"c":"NS","T":14.8,"A":22.0},{"c":"NS","T":19.2,"A":22.8},{"c":"NS","T":23.2,"A":22.6},{"c":"NS","T":31.7,"A":21.5},{"c":"NS","T":50.4,"A":20.3},
      {"c":"EW","T":0.0496,"A":5.44},{"c":"EW","T":0.0697,"A":8.7},{"c":"EW","T":0.1,"A":14.3},{"c":"EW","T":0.1491,"A":13.5},{"c":"EW","T":0.1986,"A":23.3},{"c":"EW","T":0.2477,"A":30.9},{"c":"EW","T":0.2914,"A":26.0},{"c":"EW","T":0.3454,"A":20.3},{"c":"EW","T":0.3935,"A":35.2},{"c":"EW","T":0.4504,"A":64.1},{"c":"EW","T":0.5428,"A":81.4},{"c":"EW","T":0.6101,"A":98},{"c":"EW","T":0.6575,"A":100},{"c":"EW","T":0.7014,"A":103},{"c":"EW","T":0.7613,"A":106},{"c":"EW","T":0.8939,"A":86.8},{"c":"EW","T":1.0,"A":73.8},{"c":"EW","T":1.19,"A":62.0},{"c":"EW","T":1.39,"A":57.7},{"c":"EW","T":1.69,"A":54.0},{"c":"EW","T":2.08,"A":45.1},{"c":"EW","T":2.46,"A":47.6},{"c":"EW","T":3.17,"A":47.6},{"c":"EW","T":4.1,"A":46.6},{"c":"EW","T":5.3,"A":44.2},{"c":"EW","T":7.3,"A":41.8},{"c":"EW","T":10.0,"A":39.8},{"c":"EW","T":21.6,"A":39.8},{"c":"EW","T":50.4,"A":39.8},
      {"c":"UD","T":0.0496,"A":1.71},{"c":"UD","T":0.0697,"A":2.53},{"c":"UD","T":0.0988,"A":3.3},{"c":"UD","T":0.1233,"A":4.69},{"c":"UD","T":0.1542,"A":6.8},{"c":"UD","T":0.1986,"A":10.7},{"c":"UD","T":0.2477,"A":9.84},{"c":"UD","T":0.2972,"A":13.1},{"c":"UD","T":0.3454,"A":11.6},{"c":"UD","T":0.3935,"A":16.8},{"c":"UD","T":0.4474,"A":24.9},{"c":"UD","T":0.4981,"A":16.1},{"c":"UD","T":0.5544,"A":15.1},{"c":"UD","T":0.6379,"A":18.5},{"c":"UD","T":0.7118,"A":23.3},{"c":"UD","T":0.7998,"A":28.6},{"c":"UD","T":0.8939,"A":22.9},{"c":"UD","T":1.0,"A":21.7},{"c":"UD","T":1.15,"A":16.1},{"c":"UD","T":1.37,"A":11.6},{"c":"UD","T":1.59,"A":11.6},{"c":"UD","T":1.75,"A":9.84},{"c":"UD","T":2.03,"A":9.84},{"c":"UD","T":2.32,"A":10.4},{"c":"UD","T":2.87,"A":9.84},{"c":"UD","T":3.5,"A":11.1},{"c":"UD","T":4.1,"A":11.3},{"c":"UD","T":5.2,"A":10.1},{"c":"UD","T":6.0,"A":9.2},{"c":"UD","T":7.8,"A":9.1},{"c":"UD","T":10.0,"A":9.6},{"c":"UD","T":15.8,"A":9.84},{"c":"UD","T":31.7,"A":9.84},{"c":"UD","T":50.4,"A":9.6},
      {"c":"Horizon","T":0.0496,"A":5.44},{"c":"Horizon","T":0.0697,"A":8.7},{"c":"Horizon","T":0.1,"A":14.3},{"c":"Horizon","T":0.1491,"A":13.5},{"c":"Horizon","T":0.1986,"A":23.3},{"c":"Horizon","T":0.2477,"A":30.9},{"c":"Horizon","T":0.2914,"A":27.5},{"c":"Horizon","T":0.3454,"A":21.1},{"c":"Horizon","T":0.3935,"A":35.2},{"c":"Horizon","T":0.4504,"A":64.1},{"c":"Horizon","T":0.5428,"A":81.4},{"c":"Horizon","T":0.6101,"A":102.5},{"c":"Horizon","T":0.6575,"A":111},{"c":"Horizon","T":0.7014,"A":104},{"c":"Horizon","T":0.7613,"A":106},{"c":"Horizon","T":0.8939,"A":86.8},{"c":"Horizon","T":1.0,"A":73.8},{"c":"Horizon","T":1.19,"A":62.0},{"c":"Horizon","T":1.39,"A":57.7},{"c":"Horizon","T":1.69,"A":54.0},{"c":"Horizon","T":2.08,"A":45.1},{"c":"Horizon","T":2.46,"A":47.6},{"c":"Horizon","T":3.17,"A":47.6},{"c":"Horizon","T":4.1,"A":46.6},{"c":"Horizon","T":5.3,"A":44.2},{"c":"Horizon","T":7.3,"A":41.8},{"c":"Horizon","T":10.0,"A":39.8},{"c":"Horizon","T":21.6,"A":39.8},{"c":"Horizon","T":50.4,"A":39.8}
    ]
  },
  "resolve": {"scale": {"x": "independent", "y": "independent", "color": "independent", "strokeWidth": "independent"}},
  "spacing": -4,
  "hconcat": [
    {
      "bounds": "flush",
      "spacing": 0,
      "resolve": {"scale": {"y": "independent"}},
      "vconcat": [
        {
          "width": 1210,
          "height": 16,
          "data": {"name": "ps"},
          "title": {"text": "2026/7/28 16:27:10-", "anchor": "start", "frame": "group", "align": "left", "baseline": "middle", "dx": 116, "offset": 1.5, "fontSize": 30},
          "layer": [
            {
              "mark": {"type": "rule", "color": "#2f8cff", "strokeWidth": 2},
              "encoding": {
                "x": {"field": "t", "type": "quantitative", "scale": {"domain": [10, 310], "nice": false, "zero": false},
                      "axis": {"orient": "top", "tickCount": 300, "labels": false, "tickSize": -7, "domain": true, "grid": false, "title": null}},
                "y": {"datum": 0, "type": "quantitative", "scale": {"domain": [0, 1], "reverse": true}, "axis": null},
                "y2": {"datum": 0.6}
              }
            },
            {
              "mark": {"type": "text", "color": "#2f8cff", "fontSize": 18, "baseline": "middle", "dy": 7},
              "encoding": {
                "x": {"field": "t", "type": "quantitative",
                      "axis": {"orient": "top", "values": [10,20,30,40,50,60,70,80,90,100,110,120,130,140,150,160,170,180,190,200,210,220,230,240,250,260,270,280,290,300,310],
                               "labelExpr": "format(datum.value % 60, '02d')", "labelFontSize": 20, "labelPadding": 38, "labelBaseline": "middle",
                               "tickSize": -16, "domain": false, "grid": false, "title": null}},
                "y": {"datum": 1, "type": "quantitative"},
                "text": {"field": "phase"}
              }
            }
          ],
          "resolve": {"axis": {"x": "independent"}}
        },
        {
          "width": 1210, "height": 37,
          "data": {"values": [{}]},
          "title": {"text": "熊本北区植木町", "anchor": "start", "frame": "group", "align": "center", "baseline": "middle", "dx": 835, "offset": 51.5, "fontSize": 30},
          "mark": {"type": "rect", "opacity": 0},
          "encoding": {"y": {"datum": 0, "type": "quantitative", "scale": {"domain": [0, 1]}, "axis": null}, "y2": {"datum": 1}}
        },
        {
          "width": 1210, "height": 100,
          "data": {"name": "ans"},
          "title": {"text": "加速度NS", "anchor": "start", "frame": "group", "baseline": "middle", "offset": -30, "dx": -3, "fontSize": 21},
          "layer": [
            {"mark": {"type": "line", "color": "#000", "strokeWidth": 1.3},
             "encoding": {
               "x": {"field": "t", "type": "quantitative", "scale": {"domain": [10, 310], "nice": false, "zero": false}, "axis": null},
               "y": {"field": "v", "type": "quantitative", "scale": {"domain": [-430, 430], "nice": false},
                     "axis": {"orient": "left", "values": [-430, 0, 430], "labelExpr": "'' + datum.value", "labelFontSize": 20, "labelPadding": 32, "tickSize": -17,
                              "tickOpacity": {"condition": {"test": "datum.value === 0", "value": 0}, "value": 1},
                              "grid": true, "gridDash": [2, 2], "gridColor": "#8a8a8a",
                              "gridOpacity": {"condition": {"test": "datum.value === 0", "value": 0}, "value": 1},
                              "title": "gal", "titleAngle": 0, "titleAlign": "right", "titleBaseline": "middle", "titleX": -32, "titleY": 38, "titleFontSize": 16}}
             }},
            {"mark": {"type": "line", "opacity": 0},
             "encoding": {
               "x": {"field": "t", "type": "quantitative"},
               "y": {"field": "v", "type": "quantitative", "axis": {"orient": "right", "values": [-430, 430], "labels": false, "tickSize": -15, "grid": false, "title": null}}
             }}
          ],
          "resolve": {"axis": {"y": "independent"}}
        },
        {"width": 1210, "height": 14.8, "data": {"values": []}, "mark": "point"},
        {
          "width": 1210, "height": 100,
          "data": {"name": "aew"},
          "title": {"text": "EW", "anchor": "start", "frame": "group", "baseline": "middle", "offset": -30, "dx": -3, "fontSize": 21},
          "layer": [
            {"mark": {"type": "line", "color": "#000", "strokeWidth": 1.3},
             "encoding": {
               "x": {"field": "t", "type": "quantitative", "scale": {"domain": [10, 310], "nice": false, "zero": false}, "axis": null},
               "y": {"field": "v", "type": "quantitative", "scale": {"domain": [-430, 430], "nice": false},
                     "axis": {"orient": "left", "values": [-430, 0, 430], "labelExpr": "'' + datum.value", "labelFontSize": 20, "labelPadding": 32, "tickSize": -17,
                              "tickOpacity": {"condition": {"test": "datum.value === 0", "value": 0}, "value": 1},
                              "grid": true, "gridDash": [2, 2], "gridColor": "#8a8a8a",
                              "gridOpacity": {"condition": {"test": "datum.value === 0", "value": 0}, "value": 1},
                              "title": "gal", "titleAngle": 0, "titleAlign": "right", "titleBaseline": "middle", "titleX": -32, "titleY": 38, "titleFontSize": 16}}
             }},
            {"mark": {"type": "line", "opacity": 0},
             "encoding": {
               "x": {"field": "t", "type": "quantitative"},
               "y": {"field": "v", "type": "quantitative", "axis": {"orient": "right", "values": [-430, 430], "labels": false, "tickSize": -15, "grid": false, "title": null}}
             }}
          ],
          "resolve": {"axis": {"y": "independent"}}
        },
        {"width": 1210, "height": 14.8, "data": {"values": []}, "mark": "point"},
        {
          "width": 1210, "height": 100,
          "data": {"name": "aud"},
          "title": {"text": "UD", "anchor": "start", "frame": "group", "baseline": "middle", "offset": -30, "dx": -3, "fontSize": 21},
          "layer": [
            {"mark": {"type": "line", "color": "#000", "strokeWidth": 1.3},
             "encoding": {
               "x": {"field": "t", "type": "quantitative", "scale": {"domain": [10, 310], "nice": false, "zero": false}, "axis": null},
               "y": {"field": "v", "type": "quantitative", "scale": {"domain": [-430, 430], "nice": false},
                     "axis": {"orient": "left", "values": [-430, 0, 430], "labelExpr": "'' + datum.value", "labelFontSize": 20, "labelPadding": 32, "tickSize": -17,
                              "tickOpacity": {"condition": {"test": "datum.value === 0", "value": 0}, "value": 1},
                              "grid": true, "gridDash": [2, 2], "gridColor": "#8a8a8a",
                              "gridOpacity": {"condition": {"test": "datum.value === 0", "value": 0}, "value": 1},
                              "title": "gal", "titleAngle": 0, "titleAlign": "right", "titleBaseline": "middle", "titleX": -32, "titleY": 38, "titleFontSize": 16}}
             }},
            {"mark": {"type": "line", "opacity": 0},
             "encoding": {
               "x": {"field": "t", "type": "quantitative"},
               "y": {"field": "v", "type": "quantitative", "axis": {"orient": "right", "values": [-430, 430], "labels": false, "tickSize": -15, "grid": false, "title": null}}
             }}
          ],
          "resolve": {"axis": {"y": "independent"}}
        },
        {"width": 1210, "height": 33.9, "data": {"values": []}, "mark": "point"},
        {
          "width": 1210, "height": 95,
          "data": {"name": "vns"},
          "title": {"text": "速度NS", "anchor": "start", "frame": "group", "baseline": "middle", "offset": -27.5, "dx": -3, "fontSize": 21},
          "layer": [
            {"mark": {"type": "line", "color": "#000", "strokeWidth": 1},
             "encoding": {
               "x": {"field": "t", "type": "quantitative", "scale": {"domain": [10, 310], "nice": false, "zero": false}, "axis": null},
               "y": {"field": "v", "type": "quantitative", "scale": {"domain": [-35, 35], "nice": false},
                     "axis": {"orient": "left", "values": [-35, 0, 35], "labelExpr": "'' + datum.value", "labelFontSize": 20, "labelPadding": 32, "tickSize": -17,
                              "tickOpacity": {"condition": {"test": "datum.value === 0", "value": 0}, "value": 1},
                              "grid": true, "gridDash": [2, 2], "gridColor": "#8a8a8a",
                              "gridOpacity": {"condition": {"test": "datum.value === 0", "value": 0}, "value": 1},
                              "title": "cm/sec", "titleAngle": 0, "titleAlign": "right", "titleBaseline": "middle", "titleX": -31, "titleY": 34, "titleFontSize": 16}}
             }},
            {"mark": {"type": "line", "opacity": 0},
             "encoding": {
               "x": {"field": "t", "type": "quantitative"},
               "y": {"field": "v", "type": "quantitative", "axis": {"orient": "right", "values": [-35, 35], "labels": false, "tickSize": -15, "grid": false, "title": null}}
             }}
          ],
          "resolve": {"axis": {"y": "independent"}}
        },
        {"width": 1210, "height": 19.5, "data": {"values": []}, "mark": "point"},
        {
          "width": 1210, "height": 95,
          "data": {"name": "vew"},
          "title": {"text": "EW", "anchor": "start", "frame": "group", "baseline": "middle", "offset": -27.5, "dx": -3, "fontSize": 21},
          "layer": [
            {"mark": {"type": "line", "color": "#000", "strokeWidth": 1},
             "encoding": {
               "x": {"field": "t", "type": "quantitative", "scale": {"domain": [10, 310], "nice": false, "zero": false}, "axis": null},
               "y": {"field": "v", "type": "quantitative", "scale": {"domain": [-35, 35], "nice": false},
                     "axis": {"orient": "left", "values": [-35, 0, 35], "labelExpr": "'' + datum.value", "labelFontSize": 20, "labelPadding": 32, "tickSize": -17,
                              "tickOpacity": {"condition": {"test": "datum.value === 0", "value": 0}, "value": 1},
                              "grid": true, "gridDash": [2, 2], "gridColor": "#8a8a8a",
                              "gridOpacity": {"condition": {"test": "datum.value === 0", "value": 0}, "value": 1},
                              "title": "cm/sec", "titleAngle": 0, "titleAlign": "right", "titleBaseline": "middle", "titleX": -31, "titleY": 34, "titleFontSize": 16}}
             }},
            {"mark": {"type": "line", "opacity": 0},
             "encoding": {
               "x": {"field": "t", "type": "quantitative"},
               "y": {"field": "v", "type": "quantitative", "axis": {"orient": "right", "values": [-35, 35], "labels": false, "tickSize": -15, "grid": false, "title": null}}
             }}
          ],
          "resolve": {"axis": {"y": "independent"}}
        },
        {"width": 1210, "height": 19.5, "data": {"values": []}, "mark": "point"},
        {
          "width": 1210, "height": 95,
          "data": {"name": "vud"},
          "title": {"text": "UD", "anchor": "start", "frame": "group", "baseline": "middle", "offset": -27.5, "dx": -3, "fontSize": 21},
          "layer": [
            {"mark": {"type": "line", "color": "#000", "strokeWidth": 1},
             "encoding": {
               "x": {"field": "t", "type": "quantitative", "scale": {"domain": [10, 310], "nice": false, "zero": false}, "axis": null},
               "y": {"field": "v", "type": "quantitative", "scale": {"domain": [-35, 35], "nice": false},
                     "axis": {"orient": "left", "values": [-35, 0, 35], "labelExpr": "'' + datum.value", "labelFontSize": 20, "labelPadding": 32, "tickSize": -17,
                              "tickOpacity": {"condition": {"test": "datum.value === 0", "value": 0}, "value": 1},
                              "grid": true, "gridDash": [2, 2], "gridColor": "#8a8a8a",
                              "gridOpacity": {"condition": {"test": "datum.value === 0", "value": 0}, "value": 1},
                              "title": "cm/sec", "titleAngle": 0, "titleAlign": "right", "titleBaseline": "middle", "titleX": -31, "titleY": 34, "titleFontSize": 16}}
             }},
            {"mark": {"type": "line", "opacity": 0},
             "encoding": {
               "x": {"field": "t", "type": "quantitative"},
               "y": {"field": "v", "type": "quantitative", "axis": {"orient": "right", "values": [-35, 35], "labels": false, "tickSize": -15, "grid": false, "title": null}}
             }}
          ],
          "resolve": {"axis": {"y": "independent"}}
        },
        {"width": 1210, "height": 49, "data": {"values": []}, "mark": "point"},
        {
          "width": 1210, "height": 65,
          "data": {"name": "dns"},
          "title": {"text": "変位NS", "anchor": "start", "frame": "group", "baseline": "middle", "offset": -11, "dx": -3, "fontSize": 21},
          "layer": [
            {"mark": {"type": "line", "color": "#000", "strokeWidth": 1},
             "encoding": {
               "x": {"field": "t", "type": "quantitative", "scale": {"domain": [10, 310], "nice": false, "zero": false}, "axis": null},
               "y": {"field": "v", "type": "quantitative", "scale": {"domain": [-3, 3], "nice": false},
                     "axis": {"orient": "left", "values": [-3, 0, 3], "labelExpr": "'' + datum.value", "labelFontSize": 20, "labelPadding": 32, "tickSize": -17,
                              "tickOpacity": {"condition": {"test": "datum.value === 0", "value": 0}, "value": 1},
                              "grid": true, "gridDash": [2, 2], "gridColor": "#8a8a8a",
                              "gridOpacity": {"condition": {"test": "datum.value === 0", "value": 0}, "value": 1},
                              "title": "cm", "titleAngle": 0, "titleAlign": "right", "titleBaseline": "middle", "titleX": -29, "titleY": 20, "titleFontSize": 16}}
             }},
            {"mark": {"type": "line", "opacity": 0},
             "encoding": {
               "x": {"field": "t", "type": "quantitative"},
               "y": {"field": "v", "type": "quantitative", "axis": {"orient": "right", "values": [-3, 3], "labels": false, "tickSize": -15, "grid": false, "title": null}}
             }}
          ],
          "resolve": {"axis": {"y": "independent"}}
        },
        {"width": 1210, "height": 49, "data": {"values": []}, "mark": "point"},
        {
          "width": 1210, "height": 65,
          "data": {"name": "dew"},
          "title": {"text": "EW", "anchor": "start", "frame": "group", "baseline": "middle", "offset": -11, "dx": -3, "fontSize": 21},
          "layer": [
            {"mark": {"type": "line", "color": "#000", "strokeWidth": 1},
             "encoding": {
               "x": {"field": "t", "type": "quantitative", "scale": {"domain": [10, 310], "nice": false, "zero": false}, "axis": null},
               "y": {"field": "v", "type": "quantitative", "scale": {"domain": [-3, 3], "nice": false},
                     "axis": {"orient": "left", "values": [-3, 0, 3], "labelExpr": "'' + datum.value", "labelFontSize": 20, "labelPadding": 32, "tickSize": -17,
                              "tickOpacity": {"condition": {"test": "datum.value === 0", "value": 0}, "value": 1},
                              "grid": true, "gridDash": [2, 2], "gridColor": "#8a8a8a",
                              "gridOpacity": {"condition": {"test": "datum.value === 0", "value": 0}, "value": 1},
                              "title": "cm", "titleAngle": 0, "titleAlign": "right", "titleBaseline": "middle", "titleX": -29, "titleY": 20, "titleFontSize": 16}}
             }},
            {"mark": {"type": "line", "opacity": 0},
             "encoding": {
               "x": {"field": "t", "type": "quantitative"},
               "y": {"field": "v", "type": "quantitative", "axis": {"orient": "right", "values": [-3, 3], "labels": false, "tickSize": -15, "grid": false, "title": null}}
             }}
          ],
          "resolve": {"axis": {"y": "independent"}}
        },
        {"width": 1210, "height": 49, "data": {"values": []}, "mark": "point"},
        {
          "width": 1210, "height": 65,
          "data": {"name": "dud"},
          "title": {"text": "UD", "anchor": "start", "frame": "group", "baseline": "middle", "offset": -11, "dx": -3, "fontSize": 21},
          "layer": [
            {"mark": {"type": "line", "color": "#000", "strokeWidth": 1},
             "encoding": {
               "x": {"field": "t", "type": "quantitative", "scale": {"domain": [10, 310], "nice": false, "zero": false}, "axis": null},
               "y": {"field": "v", "type": "quantitative", "scale": {"domain": [-3, 3], "nice": false},
                     "axis": {"orient": "left", "values": [-3, 0, 3], "labelExpr": "'' + datum.value", "labelFontSize": 20, "labelPadding": 32, "tickSize": -17,
                              "tickOpacity": {"condition": {"test": "datum.value === 0", "value": 0}, "value": 1},
                              "grid": true, "gridDash": [2, 2], "gridColor": "#8a8a8a",
                              "gridOpacity": {"condition": {"test": "datum.value === 0", "value": 0}, "value": 1},
                              "title": "cm", "titleAngle": 0, "titleAlign": "right", "titleBaseline": "middle", "titleX": -29, "titleY": 20, "titleFontSize": 16}}
             }},
            {"mark": {"type": "line", "opacity": 0},
             "encoding": {
               "x": {"field": "t", "type": "quantitative"},
               "y": {"field": "v", "type": "quantitative", "axis": {"orient": "right", "values": [-3, 3], "labels": false, "tickSize": -15, "grid": false, "title": null}}
             }}
          ],
          "resolve": {"axis": {"y": "independent"}}
        },
        {"width": 1210, "height": 60, "data": {"values": []}, "mark": "point"},
        {
          "width": 1210, "height": 255,
          "data": {"name": "shindo"},
          "title": {"text": "震度（参考値）：5.40", "anchor": "start", "frame": "group", "baseline": "middle", "offset": -18, "dx": -2, "fontSize": 26},
          "layer": [
            {"mark": {"type": "line", "color": "#000", "strokeWidth": 3},
             "encoding": {
               "x": {"field": "t", "type": "quantitative", "scale": {"domain": [10, 310], "nice": false, "zero": false}, "axis": null},
               "y": {"field": "v", "type": "quantitative", "scale": {"domain": [0, 7], "nice": false},
                     "axis": {"orient": "left", "values": [0, 1, 2, 3, 4, 5, 6, 7], "labelFontSize": 22, "labelPadding": 32, "tickSize": -17,
                              "grid": true, "gridDash": [2, 2], "gridColor": "#8a8a8a", "title": null}}
             }},
            {"mark": {"type": "line", "opacity": 0},
             "encoding": {
               "x": {"field": "t", "type": "quantitative"},
               "y": {"field": "v", "type": "quantitative", "axis": {"orient": "right", "values": [0, 1, 2, 3, 4, 5, 6, 7], "labels": false, "tickSize": -15, "grid": false, "title": null}}
             }}
          ],
          "resolve": {"axis": {"y": "independent"}}
        },
        {"width": 1210, "height": 16.7, "data": {"values": []}, "mark": "point"},
        {
          "width": 1210,
          "height": 16,
          "data": {"name": "ps"},
          "layer": [
            {
              "mark": {"type": "rule", "color": "#2f8cff", "strokeWidth": 2},
              "encoding": {
                "x": {"field": "t", "type": "quantitative", "scale": {"domain": [10, 310], "nice": false, "zero": false},
                      "axis": {"orient": "bottom", "tickCount": 300, "labels": false, "tickSize": -8, "domain": true, "grid": false, "title": null}},
                "y": {"datum": 0.44, "type": "quantitative", "scale": {"domain": [0, 1], "reverse": true}, "axis": null},
                "y2": {"datum": 1}
              }
            },
            {
              "mark": {"type": "text", "color": "#2f8cff", "fontSize": 18, "baseline": "middle", "dy": -7},
              "encoding": {
                "x": {"field": "t", "type": "quantitative",
                      "axis": {"orient": "bottom", "values": [10,20,30,40,50,60,70,80,90,100,110,120,130,140,150,160,170,180,190,200,210,220,230,240,250,260,270,280,290,300,310],
                               "labelExpr": "format(datum.value % 60, '02d')", "labelFontSize": 21, "labelPadding": 33, "labelBaseline": "middle",
                               "tickSize": -16, "domain": false, "grid": false, "title": null}},
                "y": {"datum": 0, "type": "quantitative"},
                "text": {"field": "phase"}
              }
            }
          ],
          "resolve": {"axis": {"x": "independent"}}
        }
      ]
    },
    {
      "bounds": "flush",
      "spacing": 0,
      "resolve": {"scale": {"y": "independent", "color": "independent", "strokeWidth": "independent"}},
      "vconcat": [
        {"width": 840, "height": 16.6, "data": {"values": []}, "mark": "point"},
        {
          "width": 840, "height": 600,
          "data": {"name": "fourier"},
          "view": {"stroke": "#000", "strokeWidth": 1.5},
          "title": {"text": "フーリエスペクトル", "anchor": "middle", "frame": "group", "baseline": "middle", "offset": -40, "fontSize": 32},
          "layer": [
            {"mark": {"type": "line", "strokeWidth": 2, "clip": true},
             "encoding": {
               "x": {"field": "T", "type": "quantitative", "scale": {"type": "log", "domain": [0.01, 60], "nice": false},
                     "axis": {"values": [0.01,0.02,0.03,0.04,0.05,0.06,0.07,0.08,0.09,0.1,0.2,0.3,0.4,0.5,0.6,0.7,0.8,0.9,1,2,3,4,5,6,7,8,9,10,20,30,40,50],
                              "grid": true,
                              "gridColor": {"condition": {"test": "abs(log(datum.value)/LN10 - round(log(datum.value)/LN10)) < 0.001", "value": "#000"}, "value": "#9a9a9a"},
                              "gridDash": {"condition": {"test": "abs(log(datum.value)/LN10 - round(log(datum.value)/LN10)) < 0.001", "value": []}, "value": [3, 2]},
                              "tickSize": -10, "domain": false,
                              "labelExpr": "abs(log(datum.value)/LN10 - round(log(datum.value)/LN10)) < 0.001 ? format(datum.value, '.2f') : ''",
                              "labelAlign": "left", "labelBaseline": "middle", "labelPadding": 27, "labelFontSize": 23,
                              "title": "sec", "titleX": 769, "titleY": 28, "titleAlign": "center", "titleBaseline": "middle", "titleFontSize": 22}},
               "y": {"field": "A", "type": "quantitative", "scale": {"type": "log", "domain": [0.1, 3000], "nice": false},
                     "axis": {"orient": "left", "values": [0.1,0.2,0.3,0.4,0.5,0.6,0.7,0.8,0.9,1,2,3,4,5,6,7,8,9,10,20,30,40,50,60,70,80,90,100,200,300,400,500,600,700,800,900,1000,2000,3000],
                              "grid": true,
                              "gridColor": {"condition": {"test": "abs(log(datum.value)/LN10 - round(log(datum.value)/LN10)) < 0.001", "value": "#000"}, "value": "#9a9a9a"},
                              "gridDash": {"condition": {"test": "abs(log(datum.value)/LN10 - round(log(datum.value)/LN10)) < 0.001", "value": []}, "value": [3, 2]},
                              "tickSize": -10, "domain": false,
                              "labelExpr": "abs(log(datum.value)/LN10 - round(log(datum.value)/LN10)) < 0.001 ? format(datum.value, '.2f') : ''",
                              "labelBaseline": "middle", "labelPadding": 25, "labelFontSize": 17,
                              "title": "cm/sec(gal･sec)", "titleAngle": 0, "titleAlign": "left", "titleBaseline": "middle", "titleX": -36, "titleY": -22, "titleFontSize": 16}},
               "color": {"field": "c", "type": "nominal",
                         "scale": {"domain": ["NS", "EW", "UD"], "range": ["#ff0000", "#00b400", "#0080ff"]},
                         "legend": {"orient": "none", "legendX": 278, "legendY": 616, "direction": "horizontal", "title": null,
                                    "symbolType": "stroke", "symbolSize": 3721, "symbolStrokeWidth": 2.5,
                                    "labelFontSize": 15, "labelAlign": "right", "labelOffset": -74, "columnPadding": 35}}
             }},
            {"mark": {"type": "line", "opacity": 0},
             "encoding": {
               "x": {"field": "T", "type": "quantitative"},
               "y": {"field": "A", "type": "quantitative",
                     "axis": {"orient": "right", "values": [0.1,0.2,0.3,0.4,0.5,0.6,0.7,0.8,0.9,1,2,3,4,5,6,7,8,9,10,20,30,40,50,60,70,80,90,100,200,300,400,500,600,700,800,900,1000,2000,3000],
                              "labels": false, "tickSize": -10, "grid": false, "domain": false,
                              "title": "0.4Hz band smoothing", "titleAngle": 0, "titleAlign": "right", "titleBaseline": "middle", "titleX": -8, "titleY": -30, "titleFontSize": 20}}
             }}
          ],
          "resolve": {"axis": {"y": "independent"}}
        },
        {"width": 840, "height": 185.8, "data": {"values": []}, "mark": "point"},
        {
          "width": 840, "height": 600,
          "data": {"name": "resp"},
          "view": {"stroke": "#000", "strokeWidth": 1.5},
          "title": {"text": "相対速度応答スペクトル", "anchor": "middle", "frame": "group", "baseline": "middle", "offset": -40, "fontSize": 32},
          "layer": [
            {"mark": {"type": "line", "clip": true},
             "encoding": {
               "x": {"field": "T", "type": "quantitative", "scale": {"type": "log", "domain": [0.01, 60], "nice": false},
                     "axis": {"values": [0.01,0.02,0.03,0.04,0.05,0.06,0.07,0.08,0.09,0.1,0.2,0.3,0.4,0.5,0.6,0.7,0.8,0.9,1,2,3,4,5,6,7,8,9,10,20,30,40,50],
                              "grid": true,
                              "gridColor": {"condition": {"test": "abs(log(datum.value)/LN10 - round(log(datum.value)/LN10)) < 0.001", "value": "#000"}, "value": "#9a9a9a"},
                              "gridDash": {"condition": {"test": "abs(log(datum.value)/LN10 - round(log(datum.value)/LN10)) < 0.001", "value": []}, "value": [3, 2]},
                              "tickSize": -10, "domain": false,
                              "labelExpr": "abs(log(datum.value)/LN10 - round(log(datum.value)/LN10)) < 0.001 ? format(datum.value, '.2f') : ''",
                              "labelAlign": "left", "labelBaseline": "middle", "labelPadding": 27, "labelFontSize": 23,
                              "title": "sec", "titleX": 769, "titleY": 28, "titleAlign": "center", "titleBaseline": "middle", "titleFontSize": 22}},
               "y": {"field": "A", "type": "quantitative", "scale": {"type": "log", "domain": [0.1, 3000], "nice": false},
                     "axis": {"orient": "left", "values": [0.1,0.2,0.3,0.4,0.5,0.6,0.7,0.8,0.9,1,2,3,4,5,6,7,8,9,10,20,30,40,50,60,70,80,90,100,200,300,400,500,600,700,800,900,1000,2000,3000],
                              "grid": true,
                              "gridColor": {"condition": {"test": "abs(log(datum.value)/LN10 - round(log(datum.value)/LN10)) < 0.001", "value": "#000"}, "value": "#9a9a9a"},
                              "gridDash": {"condition": {"test": "abs(log(datum.value)/LN10 - round(log(datum.value)/LN10)) < 0.001", "value": []}, "value": [3, 2]},
                              "tickSize": -10, "domain": false,
                              "labelExpr": "abs(log(datum.value)/LN10 - round(log(datum.value)/LN10)) < 0.001 ? format(datum.value, '.2f') : ''",
                              "labelBaseline": "middle", "labelPadding": 25, "labelFontSize": 17,
                              "title": "cm/sec", "titleAngle": 0, "titleAlign": "left", "titleBaseline": "middle", "titleX": -36, "titleY": -22, "titleFontSize": 16}},
               "color": {"field": "c", "type": "nominal",
                         "scale": {"domain": ["NS", "EW", "UD", "Horizon"], "range": ["#ff0000", "#00b400", "#0080ff", "#000000"]},
                         "legend": {"orient": "none", "legendX": 198.5, "legendY": 616, "direction": "horizontal", "title": null,
                                    "symbolType": "stroke", "symbolSize": 3721,
                                    "labelFontSize": 15, "labelAlign": "right", "labelOffset": -74, "columnPadding": 48}},
               "strokeWidth": {"field": "c", "type": "nominal",
                               "scale": {"domain": ["NS", "EW", "UD", "Horizon"], "range": [2, 2, 2, 4.5]},
                               "legend": {"orient": "none", "legendX": 198.5, "legendY": 616, "direction": "horizontal", "title": null,
                                          "symbolType": "stroke", "symbolSize": 3721,
                                          "labelFontSize": 15, "labelAlign": "right", "labelOffset": -74, "columnPadding": 48}}
             }},
            {"mark": {"type": "line", "opacity": 0},
             "encoding": {
               "x": {"field": "T", "type": "quantitative"},
               "y": {"field": "A", "type": "quantitative",
                     "axis": {"orient": "right", "values": [0.1,0.2,0.3,0.4,0.5,0.6,0.7,0.8,0.9,1,2,3,4,5,6,7,8,9,10,20,30,40,50,60,70,80,90,100,200,300,400,500,600,700,800,900,1000,2000,3000],
                              "labels": false, "tickSize": -10, "grid": false, "domain": false,
                              "title": "h=5%", "titleAngle": 0, "titleAlign": "right", "titleBaseline": "middle", "titleX": -13, "titleY": -31, "titleFontSize": 21}}
             }}
          ],
          "resolve": {"axis": {"y": "independent"}}
        }
      ]
    }
  ]
}
